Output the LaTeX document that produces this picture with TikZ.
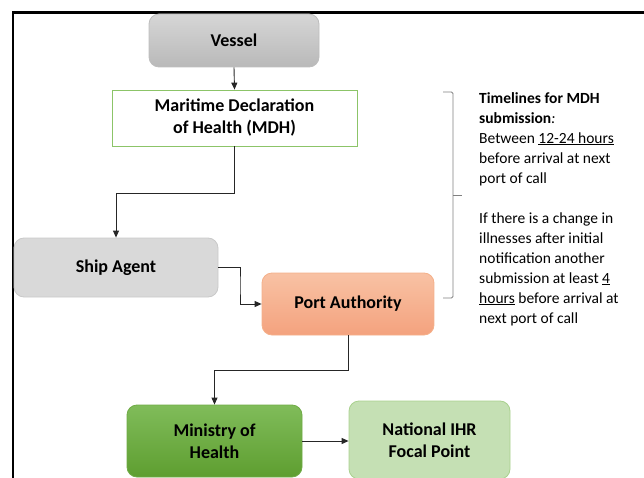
\documentclass[tikz,border=0pt]{standalone}
\usepackage{fontspec}
\setmainfont{Carlito}
\usetikzlibrary{arrows.meta}
\definecolor{vesTop}{HTML}{D6D6D6}
\definecolor{vesBot}{HTML}{B9B9B9}
\definecolor{vesLine}{HTML}{BDBDBD}
\definecolor{agentFill}{HTML}{D9D9D9}
\definecolor{agentLine}{HTML}{C9C9C9}
\definecolor{portTop}{HTML}{F8C2A4}
\definecolor{portBot}{HTML}{F4A27E}
\definecolor{portLine}{HTML}{F4B08A}
\definecolor{minTop}{HTML}{80BC5A}
\definecolor{minBot}{HTML}{5E9E30}
\definecolor{minLine}{HTML}{6FAB45}
\definecolor{natFill}{HTML}{C5E0B4}
\definecolor{natLine}{HTML}{A9D18E}
\definecolor{mdhLine}{HTML}{8CC468}
\definecolor{braceLine}{HTML}{808080}
\tikzset{
  box/.style={rounded corners=10pt, align=center, inner sep=2pt,
    font=\fontsize{18}{22}\selectfont\bfseries, line width=0.8pt},
  conn/.style={line width=0.9pt, draw=black!85},
  arr/.style={conn, -{Triangle[length=7pt,width=6pt]}},
}
\begin{document}
\begin{tikzpicture}[x=1pt,y=-1pt]
\useasboundingbox (0,0) rectangle (644,478);
% frame
\draw[line width=2.2pt] (13,478) -- (13,12.5) -- (644,12.5);
% nodes
\node[box, draw=vesLine, top color=vesTop, bottom color=vesBot,
  minimum width=170pt, minimum height=53pt] (vessel) at (234,40.5) {Vessel};
\node[box, rounded corners=0pt, draw=mdhLine, fill=white,
  minimum width=245pt, minimum height=56pt] (mdh) at (234.5,118)
  {Maritime Declaration\\of Health (MDH)};
\node[box, draw=agentLine, fill=agentFill,
  minimum width=204pt, minimum height=59pt] (ship) at (116,267.5) {Ship Agent};
\node[box, draw=portLine, top color=portTop, bottom color=portBot,
  minimum width=172pt, minimum height=62pt] (port) at (348,304) {Port Authority};
\node[box, draw=minLine, top color=minTop, bottom color=minBot,
  minimum width=175pt, minimum height=72pt] (min) at (214.5,441) {Ministry of\\Health};
\node[box, draw=natLine, fill=natFill,
  minimum width=161pt, minimum height=78pt] (nat) at (429.5,440) {National IHR\\Focal Point};
% connectors
\coordinate (e1) at (234.5,193);
\coordinate (e2) at (240,285);
\coordinate (e3) at (348,370);
\draw[arr] (vessel.south) -- (mdh.north);
\draw[arr] (mdh.south) -- (e1) -| (ship.north);
\draw[arr] (ship.east) -| (e2) |- (port.west);
\draw[arr] (port.south) -- (e3) -| (min.north);
\draw[arr] (min.east) -- (min.east -| nat.west);
% brace
\coordinate (bt) at (443,92);
\coordinate (bm) at (462,195);
\coordinate (bb) at (443,298);
\draw[line width=0.8pt, draw=braceLine, rounded corners=1.5pt]
  (bt) -- (453,92) -- (453,298) -- (bb);
\draw[line width=0.8pt, draw=braceLine] (453,195) -- (bm);
% side text
\node[anchor=north west, inner sep=0pt, align=left,
  font=\fontsize{15.5}{20}\selectfont] (notes) at (479,92)
  {\textbf{Timelines for MDH}\\
   \textbf{submission}\textit{:}\\
   Between \underline{12-24 hours}\\
   before arrival at next\\
   port of call\\
   \mbox{}\\
   If there is a change in\\
   illnesses after initial\\
   notification another\\
   submission at least \underline{4}\\
   \underline{hours} before arrival at\\
   next port of call};
\end{tikzpicture}
\end{document}
